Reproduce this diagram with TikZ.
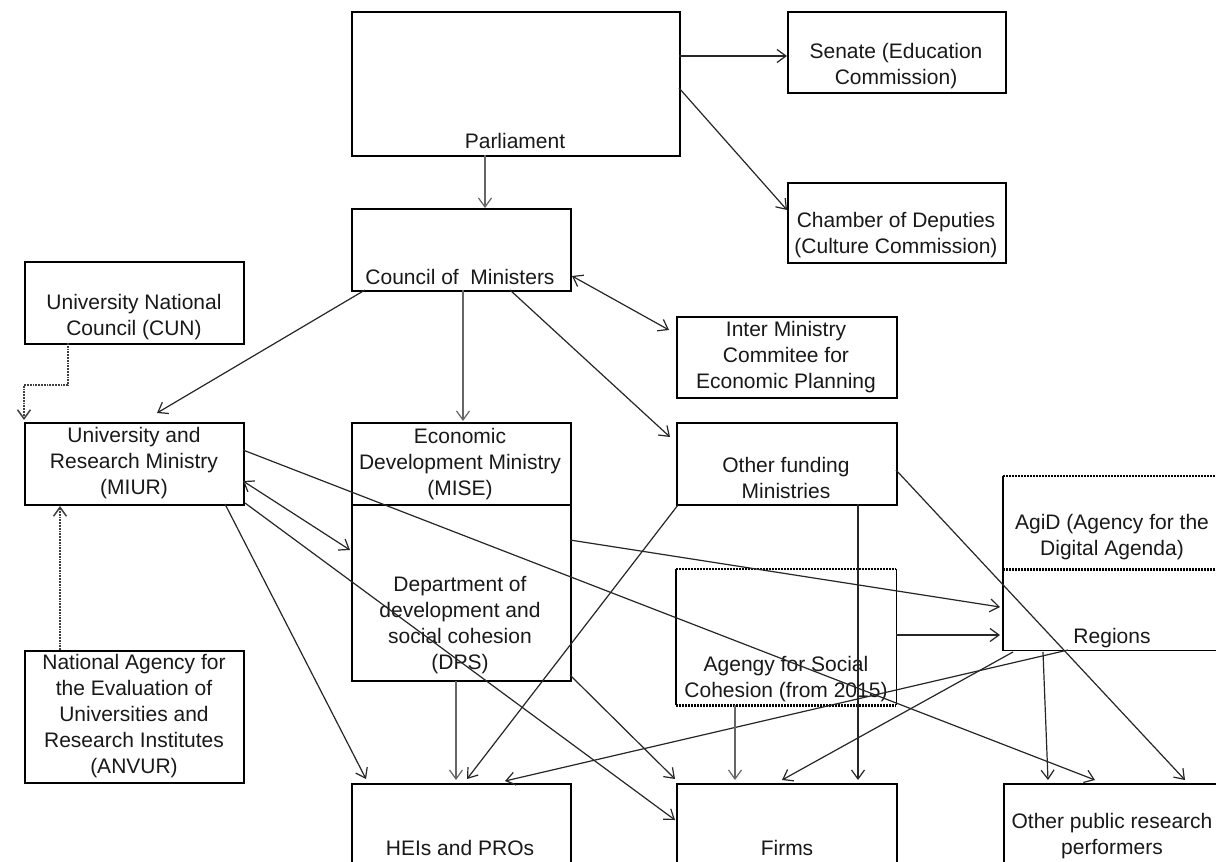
\documentclass[tikz,border=0pt]{standalone}
\usepackage{fontspec}
\setmainfont{Liberation Sans}
\usetikzlibrary{arrows.meta,calc}
\begin{document}
\begin{tikzpicture}[x=1pt,y=-1pt,
  box/.style={draw, line width=1.8pt, inner sep=0pt, anchor=north west},
  nobox/.style={inner sep=0pt, anchor=north west},
  txt/.style={font=\fontsize{21}{26}\selectfont, align=center, text=black!90, inner sep=0pt},
  arr/.style={line width=1.2pt, draw=black!85, -{Straight Barb[length=9pt,width=13pt]}},
  darr/.style={line width=1.2pt, draw=black!85, {Straight Barb[length=9pt,width=13pt]}-{Straight Barb[length=9pt,width=13pt]}},
  garr/.style={arr, draw=black!60},
  gdot/.style={arr, draw=black!75, line width=1.5pt, dash pattern=on 1.8pt off 1pt},
  dots/.style={line width=2.2pt, dash pattern=on 2pt off 1pt},
  solid15/.style={line width=1.8pt},
]
\useasboundingbox (0,0) rectangle (1216,862);
\clip (0,0) rectangle (1216,862);
\fill[white] (0,0) rectangle (1216,862);

% boxes
\node[box, minimum width=328pt, minimum height=144pt] (parl) at (351,11) {};
\node[box, minimum width=218pt, minimum height=81pt] (senate) at (787,11) {};
\node[box, minimum width=218pt, minimum height=80pt] (chamber) at (787,182) {};
\node[box, minimum width=219pt, minimum height=82pt] (council) at (351,208) {};
\node[box, minimum width=219pt, minimum height=82pt] (cun) at (24,261) {};
\node[box, minimum width=220pt, minimum height=81pt] (inter) at (676,316) {};
\node[box, minimum width=219pt, minimum height=82pt] (miur) at (24,422) {};
\node[box, minimum width=219pt, minimum height=82pt] (mise) at (351,422) {};
\node[box, minimum width=219pt, minimum height=176pt] (dps) at (351,504) {};
\node[box, minimum width=220pt, minimum height=82pt] (other) at (676,422) {};
\node[box, minimum width=219pt, minimum height=132pt] (anvur) at (24,650) {};
\node[box, minimum width=219pt, minimum height=100pt] (heis) at (351,783) {};
\node[box, minimum width=220pt, minimum height=100pt] (firms) at (676,783) {};
\node[box, minimum width=220pt, minimum height=100pt] (opr) at (1003,783) {};
\node[nobox, minimum width=220pt, minimum height=93pt] (agid) at (1003,476) {};
\node[nobox, minimum width=220pt, minimum height=81pt] (regions) at (1003,569) {};
\node[nobox, minimum width=220pt, minimum height=136pt] (agency) at (676,569) {};

% partially dotted boxes
\draw[dots] (agid.north west) -- (agid.north east);
\draw[dots] (agid.south west) -- (agid.south east);
\draw[solid15] (agid.north west) -- (agid.south west);
\draw[solid15] (regions.north west) -- (regions.south west) -- (regions.south east);
\draw[dots] (agency.north west) -- (agency.north east);
\draw[dots] (agency.south west) -- (agency.south east);
\draw[solid15] (agency.north west) -- (agency.south west);
\draw[solid15] (agency.north east) -- (agency.south east);

% texts
\node[txt] (tparl) at (515,141) {Parliament};
\node[txt] (tsenate) at (896,66) {Senate (Education\\Commission)};
\node[txt] (tchamber) at (896,235) {Chamber of Deputies\\(Culture Commission)};
\node[txt] (tcouncil) at (460,277) {Council of\ \ Ministers};
\node[txt] (tcun) at (134,317) {University National\\Council (CUN)};
\node[txt] (tinter) at (786,357) {Inter Ministry\\Commitee for\\Economic Planning};
\node[txt] (tmiur) at (134,463) {University and\\Research Ministry\\(MIUR)};
\node[txt] (tmise) at (460,464) {Economic\\Development Ministry\\(MISE)};
\node[txt] (tother) at (786,478) {Other funding\\Ministries};
\node[txt] (tagid) at (1112,537) {AgiD (Agency for the\\Digital Agenda)};
\node[txt] (tregions) at (1112,638) {Regions};
\node[txt] (tdps) at (460,625) {Department of\\development and\\social cohesion\\(DPS)};
\node[txt] (tagency) at (786,679) {Agengy for Social\\Cohesion (from 2015)};
\node[txt] (tanvur) at (134,716) {National Agency for\\the Evaluation of\\Universities and\\Research Institutes\\(ANVUR)};
\node[txt] (theis) at (460,848) {HEIs and PROs};
\node[txt] (tfirms) at (787,848) {Firms};
\node[txt] (topr) at (1112,836) {Other public research\\performers};

% connectors
\draw[arr] ([shift={(328,45)}]parl.north west) -- ([shift={(0,45)}]senate.north west);
\draw[arr] ([shift={(328,77)}]parl.north west) -- ([shift={(0,28)}]chamber.north west);
\draw[garr] ([shift={(134,144)}]parl.north west) -- ([shift={(134,0)}]council.north west);
\draw[arr] ([shift={(14,82)}]council.north west) -- ([shift={(133,-9)}]miur.north west);
\draw[garr] ([shift={(112,82)}]council.north west) -- ([shift={(112,-1)}]mise.north west);
\draw[arr] ([shift={(159,82)}]council.north west) -- ([shift={(-6,15)}]other.north west);
\draw[darr] ([shift={(221,68)}]council.north west) -- ([shift={(-7,14)}]inter.north west);
\draw[gdot] ([shift={(44,82)}]cun.north west) -- ++(0,42) -| ([shift={(0,-2)}]miur.north west);
\draw[gdot] ([shift={(36,0)}]anvur.north west) -- ([shift={(36,84)}]miur.north west);
\draw[arr] ([shift={(219,28)}]miur.north west) -- ([shift={(92,-3)}]opr.north west);
\draw[darr] ([shift={(219,59)}]miur.north west) -- ([shift={(-1,46)}]dps.north west);
\draw[arr] ([shift={(221,81)}]miur.north west) -- ([shift={(-1,37)}]firms.north west);
\draw[arr] ([shift={(201,82)}]miur.north west) -- ([shift={(15,-4)}]heis.north west);
\draw[garr] ([shift={(105,177)}]dps.north west) -- ([shift={(105,-3)}]heis.north west);
\draw[arr] ([shift={(2,83)}]other.north west) -- ([shift={(116,-4)}]heis.north west);
\draw[arr] ([shift={(65,81)}]regions.north west) -- ([shift={(154,-2)}]heis.north west);
\draw[arr] ([shift={(219,171)}]dps.north west) -- ([shift={(-1,-4)}]firms.north west);
\draw[arr] ([shift={(219,36)}]dps.north west) -- ([shift={(-3,38)}]regions.north west);
\draw[arr] ([shift={(220,66)}]agency.north west) -- ([shift={(-3,66)}]regions.north west);
\draw[garr] ([shift={(59,136)}]agency.north west) -- ([shift={(59,-3)}]firms.north west);
\draw[arr] ([shift={(182,82)}]other.north west) -- ([shift={(182,-3)}]firms.north west);
\draw[arr] ([shift={(10,83)}]regions.north west) -- ([shift={(106,-3)}]firms.north west);
\draw[arr] ([shift={(40,83)}]regions.north west) -- ([shift={(45,-3)}]opr.north west);
\draw[arr] ([shift={(220,48)}]other.north west) -- ([shift={(182,-3)}]opr.north west);
\end{tikzpicture}
\end{document}
